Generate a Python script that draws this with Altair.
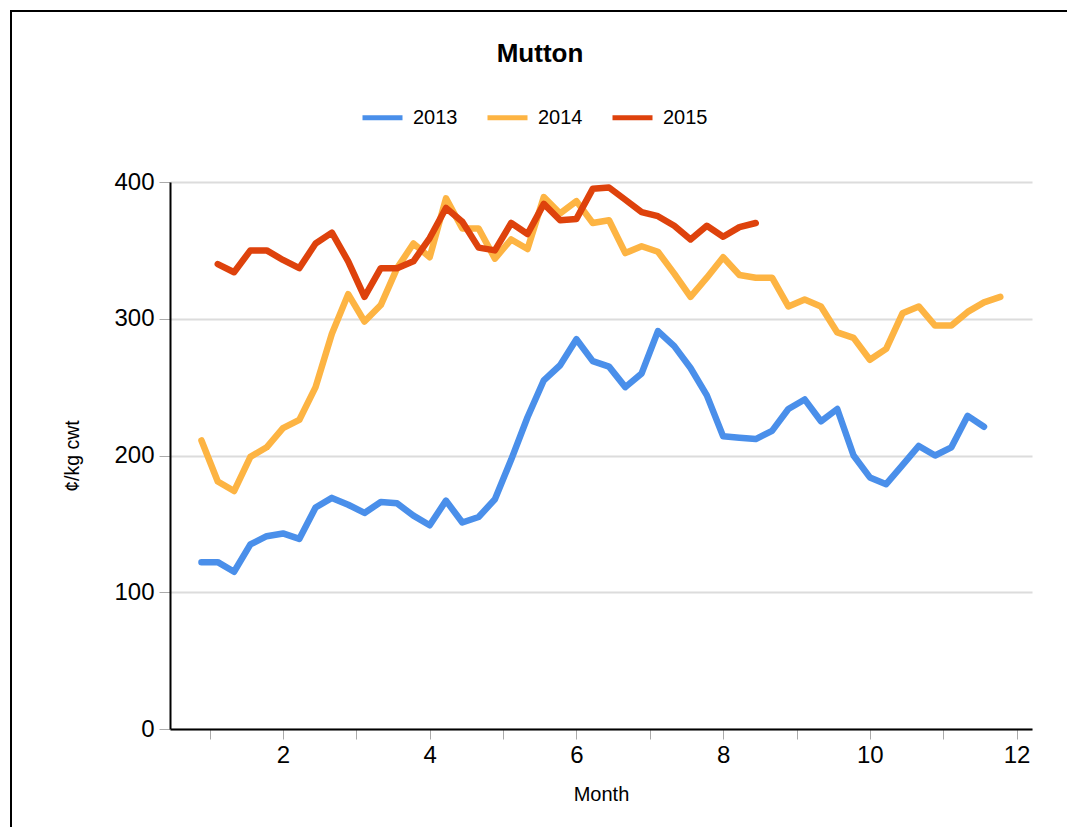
import altair as alt
import pandas as pd

years = ["2013", "2014", "2015"]
colors = ["#4a8fea", "#fdb443", "#de420c"]

start_week_2013 = 1
v2013 = [122, 122, 115, 135, 141, 143, 139, 162, 169, 164,
         158, 166, 165, 156, 149, 167, 151, 155, 168, 197,
         228, 255, 266, 285, 269, 265, 250, 260, 291, 280,
         264, 244, 214, 213, 212, 218, 234, 241, 225, 234,
         200, 184, 179, 193, 207, 200, 206, 229, 221]

start_week_2014 = 1
v2014 = [211, 181, 174, 199, 206, 220, 226, 250, 289, 318,
         298, 310, 337, 355, 345, 388, 366, 366, 344, 358,
         351, 389, 377, 386, 370, 372, 348, 353, 349, 333,
         316, 330, 345, 332, 330, 330, 309, 314, 309, 290,
         286, 270, 278, 304, 309, 295, 295, 305, 312, 316]

start_week_2015 = 2
v2015 = [340, 334, 350, 350, 343, 337, 355, 363, 342, 316,
         337, 337, 342, 359, 381, 371, 352, 350, 370, 362,
         384, 372, 373, 395, 396, 387, 378, 375, 368, 358,
         368, 360, 367, 370]

x_ticks = list(range(1, 13))
y_ticks = [0, 100, 200, 300, 400]

rows = []
for yr, start, vals in [("2013", start_week_2013, v2013),
                        ("2014", start_week_2014, v2014),
                        ("2015", start_week_2015, v2015)]:
    for i, v in enumerate(vals):
        week = start + i
        rows.append({"Year": yr, "Month": (week + 3) / 4.5, "Price": v, "order": i})
df = pd.DataFrame(rows)

FONT = "Liberation Sans"

lines = alt.Chart(df).mark_line(strokeWidth=6.5, strokeCap="round", strokeJoin="round").encode(
    x=alt.X("Month:Q", title="Month",
            scale=alt.Scale(domain=[0.46, 12.21], nice=False, zero=False),
            axis=alt.Axis(values=x_ticks, labelExpr="datum.value % 2 == 0 ? datum.label : ''",
                          grid=False, domainColor="black", domainWidth=2,
                          tickColor="#aaaaaa", tickSize=10, tickWidth=1,
                          labelFontSize=24, labelColor="black", labelPadding=4,
                          labelFont=FONT, titleFont=FONT, titleFontSize=20,
                          titleFontWeight="normal", titleColor="black", titlePadding=17)),
    y=alt.Y("Price:Q", title="¢/kg cwt",
            scale=alt.Scale(domain=[0, 400], nice=False),
            axis=alt.Axis(values=y_ticks, grid=True, gridColor="#dcdcdc", gridWidth=2,
                          domainColor="black", domainWidth=2,
                          tickColor="#aaaaaa", tickSize=11, tickWidth=1,
                          labelFontSize=24, labelColor="black", labelPadding=5,
                          labelFont=FONT, titleFont=FONT, titleFontSize=19.5,
                          titleFontWeight="normal", titleColor="black", titlePadding=31)),
    color=alt.Color("Year:N", scale=alt.Scale(domain=years, range=colors),
                    legend=alt.Legend(title=None, orient="none", direction="horizontal",
                                      legendX=190, legendY=-87,
                                      symbolType="stroke", symbolSize=1600,
                                      symbolStrokeWidth=5, labelFontSize=20,
                                      labelFont=FONT, labelColor="black",
                                      labelOffset=8, columnPadding=19)),
    order="order:Q",
)

frame = alt.Chart(alt.Data(values=[{"a": 1}])).mark_rect(
    fill="transparent", stroke="black", strokeWidth=2
).encode(
    x=alt.value(-159), x2=alt.value(900), y=alt.value(-171), y2=alt.value(720)
)

chart = alt.layer(lines, frame).properties(
    width=862, height=547,
    title=alt.TitleParams("Mutton", font=FONT, fontSize=26, fontWeight="bold",
                          color="black", offset=-57, dx=-61, anchor="middle"),
    autosize=alt.AutoSizeParams(type="none"),
    padding={"left": 162, "top": 174, "right": 35, "bottom": 98},
    background="white",
).configure_view(stroke=None)

chart.save("out.html", embed_options={"renderer": "svg", "actions": False})
